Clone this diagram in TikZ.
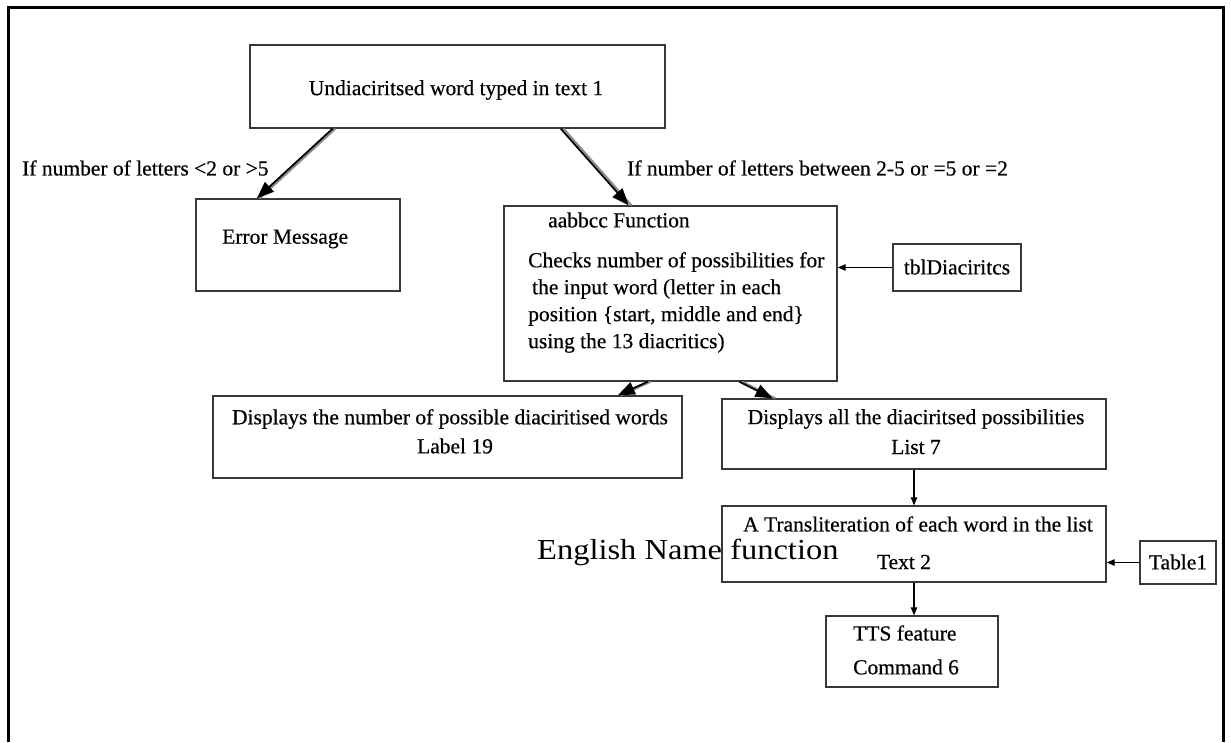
\documentclass[tikz,border=0pt]{standalone}
\usepackage{fontspec}
\setmainfont{Liberation Serif}
\newfontfamily\diagfont{Liberation Serif}[FakeBold=0.5]
\usetikzlibrary{arrows.meta,calc}
\begin{document}
\begin{tikzpicture}[x=1pt,y=-1pt,
  box/.style={draw=black!78,line width=1.4pt,inner sep=0pt,rectangle},
  txt/.style={font=\diagfont\fontsize{21.5}{25}\selectfont,inner sep=0pt},
  bigtxt/.style={font=\fontsize{29}{32}\selectfont,inner sep=0pt},
  mainline/.style={draw=black,line width=1.8pt,-{Triangle[length=17pt,width=13pt]}},
  shadowline/.style={draw=black!45,line width=2pt,transform canvas={xshift=2.8pt}},
  smallarrow/.style={draw=black,line width=1.1pt,-{Triangle[length=8pt,width=6.5pt]}},
  frameline/.style={line width=3pt,draw=black}]
\useasboundingbox (0,0) rectangle (1231,742);
% outer frame (open at the bottom)
\draw[frameline] (8,742) -- (8,7) -- (1223,7) -- (1223,742);

% boxes
\node[box,minimum width=415pt,minimum height=83pt] (top) at (457.5,86.5) {};
\node[box,minimum width=204pt,minimum height=92pt] (err) at (298,245) {};
\node[box,minimum width=333pt,minimum height=175pt] (abc) at (670.5,293.5) {};
\node[box,minimum width=128pt,minimum height=47pt] (tbl) at (957,267.5) {};
\node[box,minimum width=469pt,minimum height=82pt] (num) at (447.5,437) {};
\node[box,minimum width=384pt,minimum height=70pt] (disp) at (914,434) {};
\node[box,minimum width=384pt,minimum height=76pt] (tr) at (914,544) {};
\node[box,minimum width=76pt,minimum height=43pt] (tab) at (1178,562.5) {};
\node[box,minimum width=172pt,minimum height=71pt] (tts) at (912,651.5) {};

% texts
\node[txt] (ttop) at (456,90) {Undiaciritsed word typed in text 1};
\node[txt,anchor=west] (terr) at (222,239) {Error Message};
\node[txt,anchor=west] (labl) at (22,168) {If number of letters <2 or >5};
\node[txt,anchor=west] (labr) at (627,168) {If number of letters between 2-5 or =5 or =2};
\node[txt,anchor=west] (tabc1) at (548,220) {aabbcc Function};
\node[txt,anchor=west] (tabc2) at (528,262) {Checks number of possibilities for};
\node[txt,anchor=west] (tabc3) at (532,289) {the input word (letter in each};
\node[txt,anchor=west] (tabc4) at (528,316) {position \{start, middle and end\}};
\node[txt,anchor=west] (tabc5) at (528,343) {using the 13 diacritics)};
\node[txt] (ttbl) at (957,267) {tblDiaciritcs};
\node[txt] (tnum1) at (450,419) {Displays the number of possible diaciritised words};
\node[txt] (tnum2) at (455,446) {Label 19};
\node[txt] (tdisp1) at (916,419) {Displays all the diaciritsed possibilities};
\node[txt] (tdisp2) at (916,447) {List 7};
\node[txt] (ttr1) at (918,524) {A Transliteration of each word in the list};
\node[txt] (ttr2) at (904,562) {Text 2};
\node[bigtxt,anchor=base west] (eng) at (537,559) {\scalebox{1.12}[1]{English Name function}};
\node[txt] (ttab) at (1178,562) {Table1};
\node[txt,anchor=west] (ttts1) at (853,633) {TTS feature};
\node[txt,anchor=west] (ttts2) at (853,667) {Command 6};

% main (shadowed) connectors
\draw[shadowline] ($(top.south west)!0.2!(top.south east)$) -- ($(err.north west)!0.3!(err.north east)$);
\draw[mainline] ($(top.south west)!0.2!(top.south east)$) -- ($(err.north west)!0.3!(err.north east)$);
\draw[shadowline] ($(top.south west)!0.748!(top.south east)$) -- ($(abc.north west)!0.375!(abc.north east)$);
\draw[mainline] ($(top.south west)!0.748!(top.south east)$) -- ($(abc.north west)!0.375!(abc.north east)$);
\draw[shadowline] ($(abc.south west)!0.432!(abc.south east)$) -- ($(num.north west)!0.862!(num.north east)$);
\draw[mainline] ($(abc.south west)!0.432!(abc.south east)$) -- ($(num.north west)!0.862!(num.north east)$);
\draw[shadowline] ($(abc.south west)!0.706!(abc.south east)$) -- ($(disp.north west)!0.133!(disp.north east)$);
\draw[mainline] ($(abc.south west)!0.706!(abc.south east)$) -- ($(disp.north west)!0.133!(disp.north east)$);

% small connectors
\draw[smallarrow] (tbl.west) -- (tbl.west -| abc.east);
\draw[smallarrow] (tab.west) -- (tab.west -| tr.east);
\draw[smallarrow] (disp.south) -- (tr.north);
\draw[smallarrow] (tr.south) -- (tr.south |- tts.north);
\end{tikzpicture}
\end{document}
